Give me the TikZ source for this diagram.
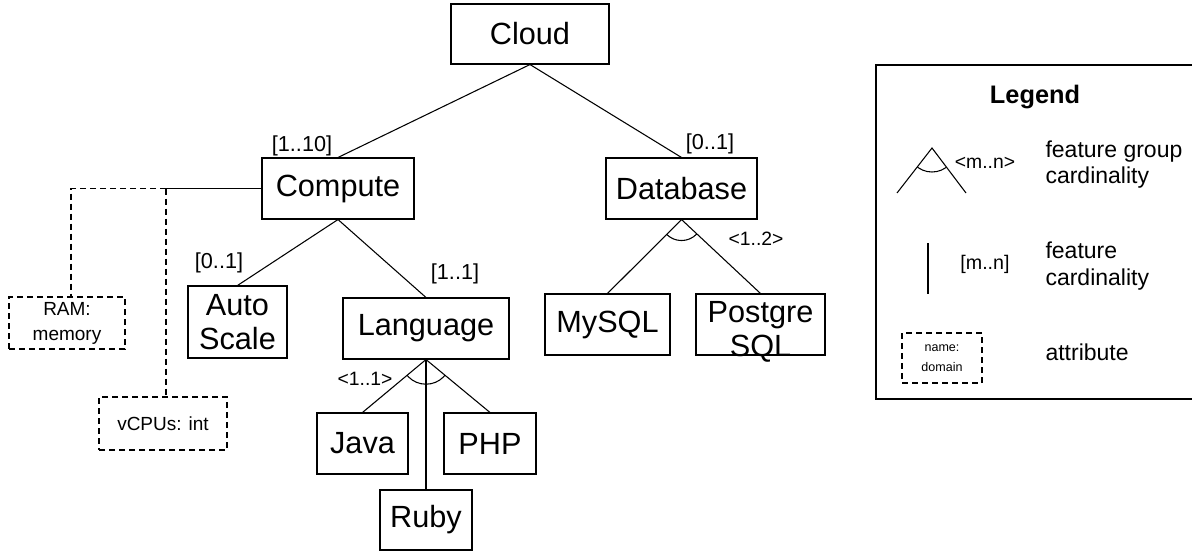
\documentclass[tikz,border=0pt]{standalone}
\usepackage{fontspec}
\setmainfont{Liberation Sans}
\begin{document}
\begin{tikzpicture}[x=0.75pt,y=-0.75pt,line width=0.8pt,
  feat/.style={draw,inner sep=0pt,align=center,font=\fontsize{23}{25.5}\selectfont},
  ftext/.style={inner sep=0pt,align=center,font=\fontsize{23}{25.5}\selectfont},
  card/.style={inner sep=0pt,font=\fontsize{16.25}{18}\selectfont},
  gcard/.style={inner sep=0pt,font=\fontsize{14.5}{16}\selectfont},
  attr/.style={draw,dash pattern=on 4.5pt off 3pt,inner sep=0pt,align=center,
    font=\fontsize{14.25}{18.75}\selectfont},
  attrline/.style={dash pattern=on 4.5pt off 3pt},
  legtext/.style={inner sep=0pt,align=left,font=\fontsize{17.25}{20}\selectfont}]
\useasboundingbox (0,0) rectangle (1192,551);

% features
\node[feat,minimum width=118.5pt,minimum height=45pt] (cloud) at (530,34) {Cloud};
\node[feat,minimum width=114pt,minimum height=45.75pt] (comp) at (338,188.5) {Compute};
\node[feat,minimum width=113.25pt,minimum height=45.75pt] (db) at (681.5,188.5) {Database};
\node[feat,minimum width=74.25pt,minimum height=54pt] (auto) at (237.5,322) {Auto\\Scale};
\node[feat,minimum width=124.5pt,minimum height=45.75pt] (lang) at (426,328.5) {Language};
\node[feat,minimum width=68.25pt,minimum height=45.75pt] (java) at (362.5,443.5) {Java};
\node[feat,minimum width=69pt,minimum height=45.75pt] (php) at (490,443.5) {PHP};
\node[feat,minimum width=69pt,minimum height=45pt] (ruby) at (426,520) {Ruby};
\node[feat,minimum width=93.75pt,minimum height=45.75pt] (mysql) at (607.5,324.5) {MySQL};
\node[draw,inner sep=0pt,minimum width=96.75pt,minimum height=45.75pt] (pg) at (760.5,324.5) {};
\node[ftext] (pgtext) at (760.5,332) {Postgre\\SQL};

% attributes
\node[attr,minimum width=87pt,minimum height=39pt] (ram) at (67,323) {RAM:\\memory};
\node[attr,minimum width=96pt,minimum height=39.75pt] (vcpu) at (163,423.5) {vCPUs: int};

% tree edges
\draw (cloud.south) -- (comp.north);
\draw (cloud.south) -- (db.north);
\draw (comp.south) -- (auto.north);
\draw (comp.south) -- (lang.north);
\draw (lang.south) -- (java.north);
\draw (lang.south) -- (ruby.north);
\draw (lang.south) -- (php.north);
\draw (db.south) -- (mysql.north);
\draw (db.south) -- (pg.north);

% group arcs
\begin{scope}
  \clip (lang.south) -- (java.north) -- (php.north) -- cycle;
  \draw (lang.south) circle[radius=18.5pt];
\end{scope}
\begin{scope}
  \clip (db.south) -- (mysql.north) -- (pg.north) -- cycle;
  \draw (db.south) circle[radius=15.75pt];
\end{scope}

% attribute links
\coordinate (j) at (166,188.5);
\draw (comp.west) -- (j);
\draw[attrline] (j) -| ([xshift=3pt]ram.north);
\draw[attrline] (j) -- (j |- vcpu.north);

% cardinalities
\node[card] (c1) at (302,146) {[1..10]};
\node[card] (c2) at (710,144) {[0..1]};
\node[card] (c3) at (219,263) {[0..1]};
\node[card] (c4) at (455,274) {[1..1]};
\node[gcard] (g1) at (365,379) {<1..1>};
\node[gcard] (g2) at (756,239) {<1..2>};

% legend
\draw (876,65) rectangle (1200,399);
\node[inner sep=0pt,anchor=base,font=\fontsize{19}{21}\bfseries] (legtitle) at (1035,103) {Legend};

\coordinate (la) at (932,148);
\coordinate (ll) at (897,193);
\coordinate (lr) at (966,193);
\draw (ll) -- (la) -- (lr);
\begin{scope}
  \clip (la) -- (ll) -- (lr) -- cycle;
  \draw (la) circle[radius=18pt];
\end{scope}
\node[gcard] (lg) at (985,163) {<m..n>};
\node[legtext,anchor=west] (lt1) at (1045,164.7) {feature group\\cardinality};

\coordinate (lv1) at (928,243);
\coordinate (lv2) at (928,294);
\draw (lv1) -- (lv2);
\node[gcard,font=\fontsize{14.75}{16}\selectfont] (lc) at (985,264) {[m..n]};
\node[legtext,anchor=west] (lt2) at (1045,265.8) {feature\\cardinality};

\node[attr,minimum width=60pt,minimum height=37.5pt,font=\fontsize{9.4}{15}\selectfont] (lattr) at (942,358) {name:\\domain};
\node[legtext,anchor=base west] (lt3) at (1045,360) {attribute};
\end{tikzpicture}
\end{document}
